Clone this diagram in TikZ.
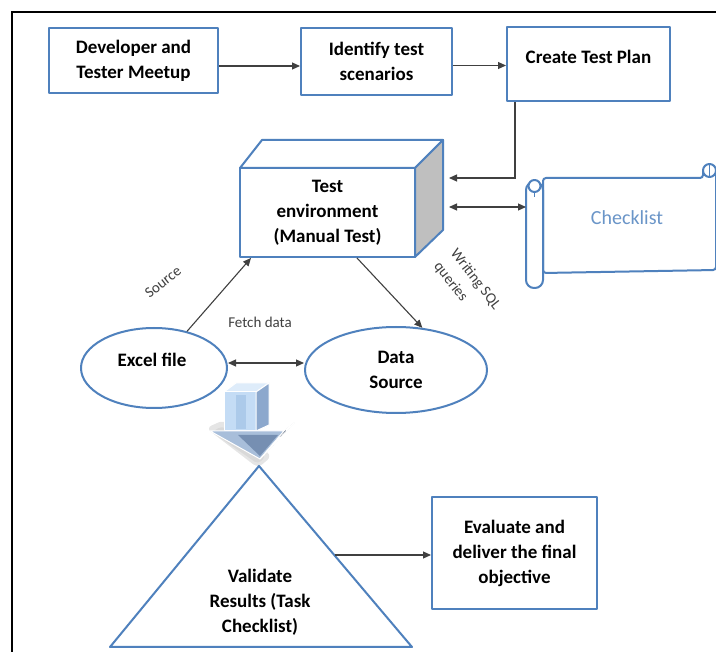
\documentclass[tikz,border=0pt]{standalone}
\usepackage{fontspec}
\setmainfont{Carlito}
\usetikzlibrary{arrows.meta,shapes.geometric}
\definecolor{ob}{HTML}{4F81BD}
\definecolor{cl}{HTML}{404040}
\definecolor{cktxt}{HTML}{6A95C8}
\definecolor{icTop}{RGB}{222,236,250}
\definecolor{icFront}{RGB}{196,220,245}
\definecolor{icStrip}{RGB}{172,202,234}
\definecolor{icSide}{RGB}{140,168,205}
\definecolor{icHead}{RGB}{168,190,218}
\definecolor{icDark}{RGB}{60,76,100}
\definecolor{icMid}{RGB}{118,143,178}
\begin{document}
\begin{tikzpicture}[x=1pt,y=-1pt,
  outline/.style={draw=ob,line width=2pt,line join=round},
  box/.style={outline,fill=white,align=center,inner sep=0pt,font=\bfseries\fontsize{19}{25}\selectfont},
  btxt/.style={align=center,inner sep=0pt,font=\bfseries\fontsize{19}{25}\selectfont},
  small/.style={inner sep=0pt,text=cl,font=\fontsize{15}{21}\selectfont},
  arr/.style={draw=cl,line width=1.1pt,-{Triangle[length=8pt,width=7pt]}},
  dbl/.style={draw=cl,line width=1.1pt,{Triangle[length=8pt,width=7pt]}-{Triangle[length=8pt,width=7pt]}},
  icon/.style={draw=white,line width=1pt,line join=round}]
\useasboundingbox (0,0) rectangle (716,652);
\fill[white] (0,0) rectangle (716,652);
% frame
\draw[black,line width=1.3pt] (12,652) -- (12,12) -- (716,12);

% top row
\node[box,minimum width=169,minimum height=65] (dev) at (133.5,60.5) {Developer and\\Tester Meetup};
\node[box,minimum width=151,minimum height=67] (ident) at (376.5,61.5) {Identify test\\scenarios};
\node[box,minimum width=163,minimum height=74] (plan) at (588.5,64) {};
\node[btxt] (plantxt) at (588.5,57) {Create Test Plan};
\draw[arr] ([yshift=-5.5pt]dev.east) -- ([yshift=-5.5pt]dev.east -| ident.west);
\draw[arr] ([yshift=-4pt]ident.east) -- ([yshift=-4pt]ident.east -| plan.west);

% cube
\fill[white] (240,168) -- (262,140) -- (443,140) -- (443,230) -- (415,257) -- (240,257) -- cycle;
\filldraw[outline,fill=white] (240,168) -- (262,140) -- (443,140) -- (415,168) -- cycle;
\filldraw[outline,fill=black!25] (415,168) -- (443,140) -- (443,230) -- (415,257) -- cycle;
\node[box,minimum width=175,minimum height=89] (cube) at (327.5,212.5) {Test\\environment\\(Manual Test)};
\coordinate (cubeR1) at (449,178);
\coordinate (cubeR2) at (449,207);
\draw[arr] ([xshift=9pt]plan.south west) |- (cubeR1);

% checklist scroll
\filldraw[outline,fill=white,rounded corners=3pt] (543,178) -- (703,178) -- (703,170) -- (716,170) -- (716,270) -- (543,273) -- cycle;
\filldraw[outline,fill=white] (709.5,170.5) circle (6.5);
\draw[ob,line width=1.5pt] (709.5,164) -- (709.5,178);
\filldraw[outline,fill=white,rounded corners=8pt] (526,182) rectangle (543,288);
\filldraw[outline,fill=white] (534.5,186) circle (6);
\draw[ob,line width=1.5pt] (534.5,192) -- (534.5,197);
\coordinate (scrollL) at (526,207);
\node[inner sep=0pt,text=cktxt,font=\fontsize{20}{24}\selectfont] (checklist) at (627,218) {Checklist};
\draw[dbl] (cubeR2) -- (scrollL);

% ellipses
\node[outline,ellipse,fill=white,minimum width=146,minimum height=80,inner sep=0pt] (excel) at (154,368) {};
\node[btxt] (exceltxt) at (152,360) {Excel file};
\node[outline,ellipse,fill=white,minimum width=182,minimum height=86,inner sep=0pt,btxt] (data) at (396,370) {Data\\Source};
\draw[arr] (excel.48) -- ([xshift=12pt]cube.south west);
\draw[arr] ([xshift=118pt]cube.south west) -- (data.58);
\draw[dbl] ([yshift=5pt]excel.east) -- ([yshift=5pt]excel.east -| data.west);
\node[small,rotate=38] (srclbl) at (163,282) {Source};
\node[small] (fetch) at (260,322) {Fetch data};
\node[small,rotate=-52,align=left] (sql) at (467,286) {Writing SQL\\queries};

% 3D down arrow icon (soft shadow, then faces)
\foreach \o in {0.03,0.03,0.04}{
  \fill[black,opacity=\o,rounded corners=6pt] (206,428) -- (258,468) -- (272,456) -- (224,420) -- cycle;}
\fill[black,opacity=0.05,rounded corners=4pt] (212,432) -- (258,464) -- (266,456) -- (222,426) -- cycle;
\filldraw[icon,fill=icTop] (224,392) -- (236,383) -- (269,383) -- (256,392) -- cycle;
\filldraw[icon,fill=icFront] (224,392) -- (256,392) -- (256,431) -- (224,431) -- cycle;
\fill[icStrip] (236,395) -- (246,395) -- (246,429) -- (236,429) -- cycle;
\filldraw[icon,fill=icSide] (256,392) -- (269,383) -- (269,425) -- (256,431) -- cycle;
\filldraw[icon,fill=icHead] (210,431) -- (284,431) -- (260,459) -- cycle;
\fill[icMid] (238,435) -- (278,435) -- (260,456) -- cycle;
\filldraw[icon,fill=icDark] (284,431) -- (294,423) -- (261,458) -- (260,459) -- cycle;

% triangle
\filldraw[outline,fill=white] (259,466) -- (412,647) -- (110,647) -- cycle;
\node[btxt] (tri) at (260,602) {Validate\\Results (Task\\Checklist)};
\coordinate (triR) at (335,555);
\node[box,minimum width=165,minimum height=112] (eval) at (514.5,553) {Evaluate and\\deliver the final\\objective};
\draw[arr] (triR) -- (triR -| eval.west);
\end{tikzpicture}
\end{document}
